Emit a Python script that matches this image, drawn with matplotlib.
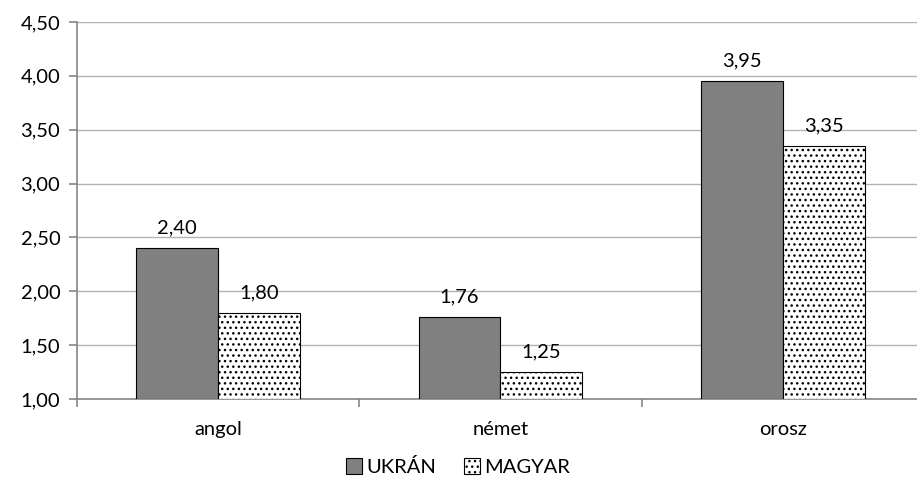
import matplotlib
matplotlib.use('Agg')
import matplotlib.pyplot as plt
import numpy as np

categories = ['angol', 'német', 'orosz']
ukran = [2.40, 1.76, 3.95]
magyar = [1.80, 1.25, 3.35]
series_names = ['UKRÁN', 'MAGYAR']
y_ticks = [1.0, 1.5, 2.0, 2.5, 3.0, 3.5, 4.0, 4.5]

plt.rcParams['font.family'] = ['Lato', 'DejaVu Sans']
plt.rcParams['hatch.linewidth'] = 1.0

fig = plt.figure(figsize=(9.17, 4.84), dpi=100)
ax = fig.add_axes([77 / 917, 85 / 484, 847 / 917, 377 / 484])

x = np.arange(len(categories))
w = 0.29
fs = 14.5
b1 = ax.bar(x - w / 2, np.array(ukran) - 1, w, bottom=1, color='#808080',
            edgecolor='black', linewidth=0.8, label=series_names[0], zorder=3)
b2 = ax.bar(x + w / 2, np.array(magyar) - 1, w, bottom=1, color='white',
            edgecolor='black', hatch='...', linewidth=0.8, label=series_names[1], zorder=3)

for bars, vals in ((b1, ukran), (b2, magyar)):
    for r, v in zip(bars, vals):
        ax.text(r.get_x() + r.get_width() / 2, v + 0.11, f'{v:.2f}'.replace('.', ','),
                ha='center', va='bottom', fontsize=fs)

ax.set_xlim(-0.5, 2.5)
ax.set_ylim(1.0, 4.5)
ax.set_yticks(y_ticks)
ax.set_yticklabels([f'{t:.2f}'.replace('.', ',') for t in y_ticks], fontsize=fs)
ax.set_xticks(x)
ax.set_xticklabels(categories, fontsize=fs)
ax.set_xticks([-0.5, 0.5, 1.5, 2.5], minor=True)
ax.tick_params(axis='x', which='major', length=0, pad=16)
ax.tick_params(axis='x', which='minor', length=6, color='#868686', width=1.2)
ax.tick_params(axis='y', length=6, color='#868686', width=1.2, pad=6)

ax.grid(axis='y', color='#b3b3b3', linewidth=1, zorder=0)
for s in ('top', 'right'):
    ax.spines[s].set_visible(False)
for s in ('left', 'bottom'):
    ax.spines[s].set_color('#868686')
    ax.spines[s].set_linewidth(1.2)

ax.legend(loc='upper center', bbox_to_anchor=(458 / 917, 44 / 484),
          bbox_transform=fig.transFigure, ncol=2, frameon=False, fontsize=fs,
          handlelength=0.8, handleheight=0.8, handletextpad=0.2, columnspacing=1.4)

fig.savefig('out.png', dpi=100)
